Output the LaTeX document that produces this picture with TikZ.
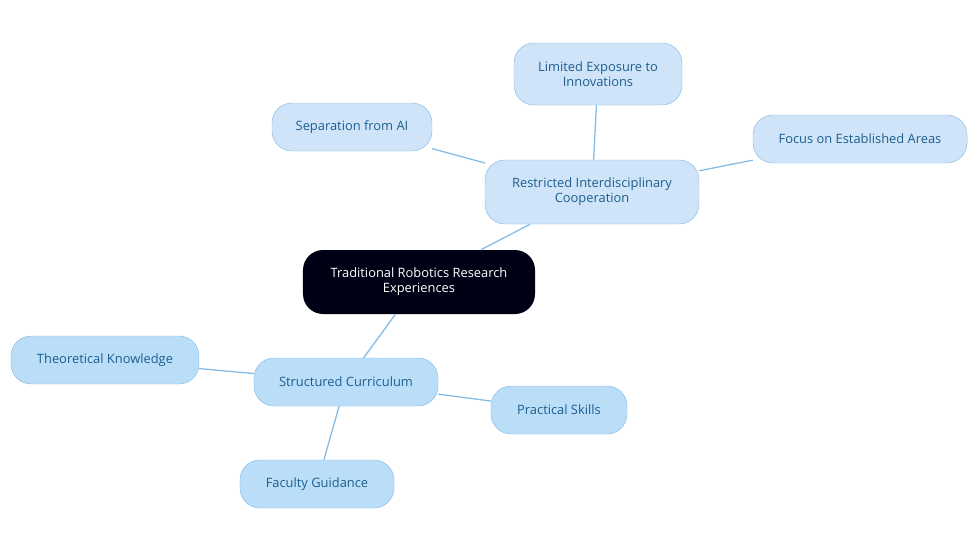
\documentclass[tikz,border=0pt]{standalone}
\usepackage{fontspec}
\setmainfont{Open Sans}
\usepackage{tikz}
\definecolor{leafborder}{HTML}{8CBDE6}
\definecolor{leaffill}{HTML}{CFE4F8}
\definecolor{subfill}{HTML}{BADDF8}
\definecolor{leaftext}{HTML}{1D5F8F}
\definecolor{edgecol}{HTML}{86BCE4}
\tikzset{
  leaf/.style={draw=leafborder,fill=leaffill,text=leaftext,rounded corners=0.6cm,align=center,
    font=\fontsize{11}{13}\selectfont,inner sep=0pt},
  sub/.style={leaf,fill=subfill},
  root/.style={fill=black!92!blue,text=white,rounded corners=0.6cm,align=center,
    font=\fontsize{11}{13}\selectfont,inner sep=0pt},
  link/.style={draw=edgecol,line width=1.1pt}
}
\begin{document}
\begin{tikzpicture}[x=0.03cm,y=-0.03cm]
			\useasboundingbox (0,0) rectangle (980,553);
			% centre
			\node[root,minimum width=6.96cm,minimum height=1.92cm] (trad) at (419,282) {Traditional Robotics Research\\Experiences};
			% upper branch
			\node[leaf,minimum width=6.42cm,minimum height=1.92cm] (coop) at (592,192) {Restricted Interdisciplinary\\Cooperation};
			\node[leaf,minimum width=5.04cm,minimum height=1.86cm] (expo) at (598,74) {Limited Exposure to\\Innovations};
			\node[leaf,minimum width=4.8cm,minimum height=1.44cm] (sep) at (352,127) {Separation from AI};
			\node[leaf,minimum width=6.42cm,minimum height=1.44cm] (focus) at (860,139) {Focus on Established Areas};
			% lower branch
			\node[sub,minimum width=5.52cm,minimum height=1.44cm] (curr) at (346,382) {Structured Curriculum};
			\node[sub,minimum width=5.64cm,minimum height=1.44cm] (theo) at (105,360) {Theoretical Knowledge};
			\node[sub,minimum width=4.08cm,minimum height=1.44cm] (prac) at (559,410) {Practical Skills};
			\node[sub,minimum width=4.62cm,minimum height=1.44cm] (fac) at (317,484) {Faculty Guidance};
			\begin{scope}[on background layer/.style={}]
			\foreach \a/\b in {trad/coop,coop/expo,coop/sep,coop/focus,trad/curr,curr/theo,curr/prac,curr/fac} {
				\draw[link] (\a) -- (\b);
			}
			\end{scope}
\end{tikzpicture}
\end{document}
